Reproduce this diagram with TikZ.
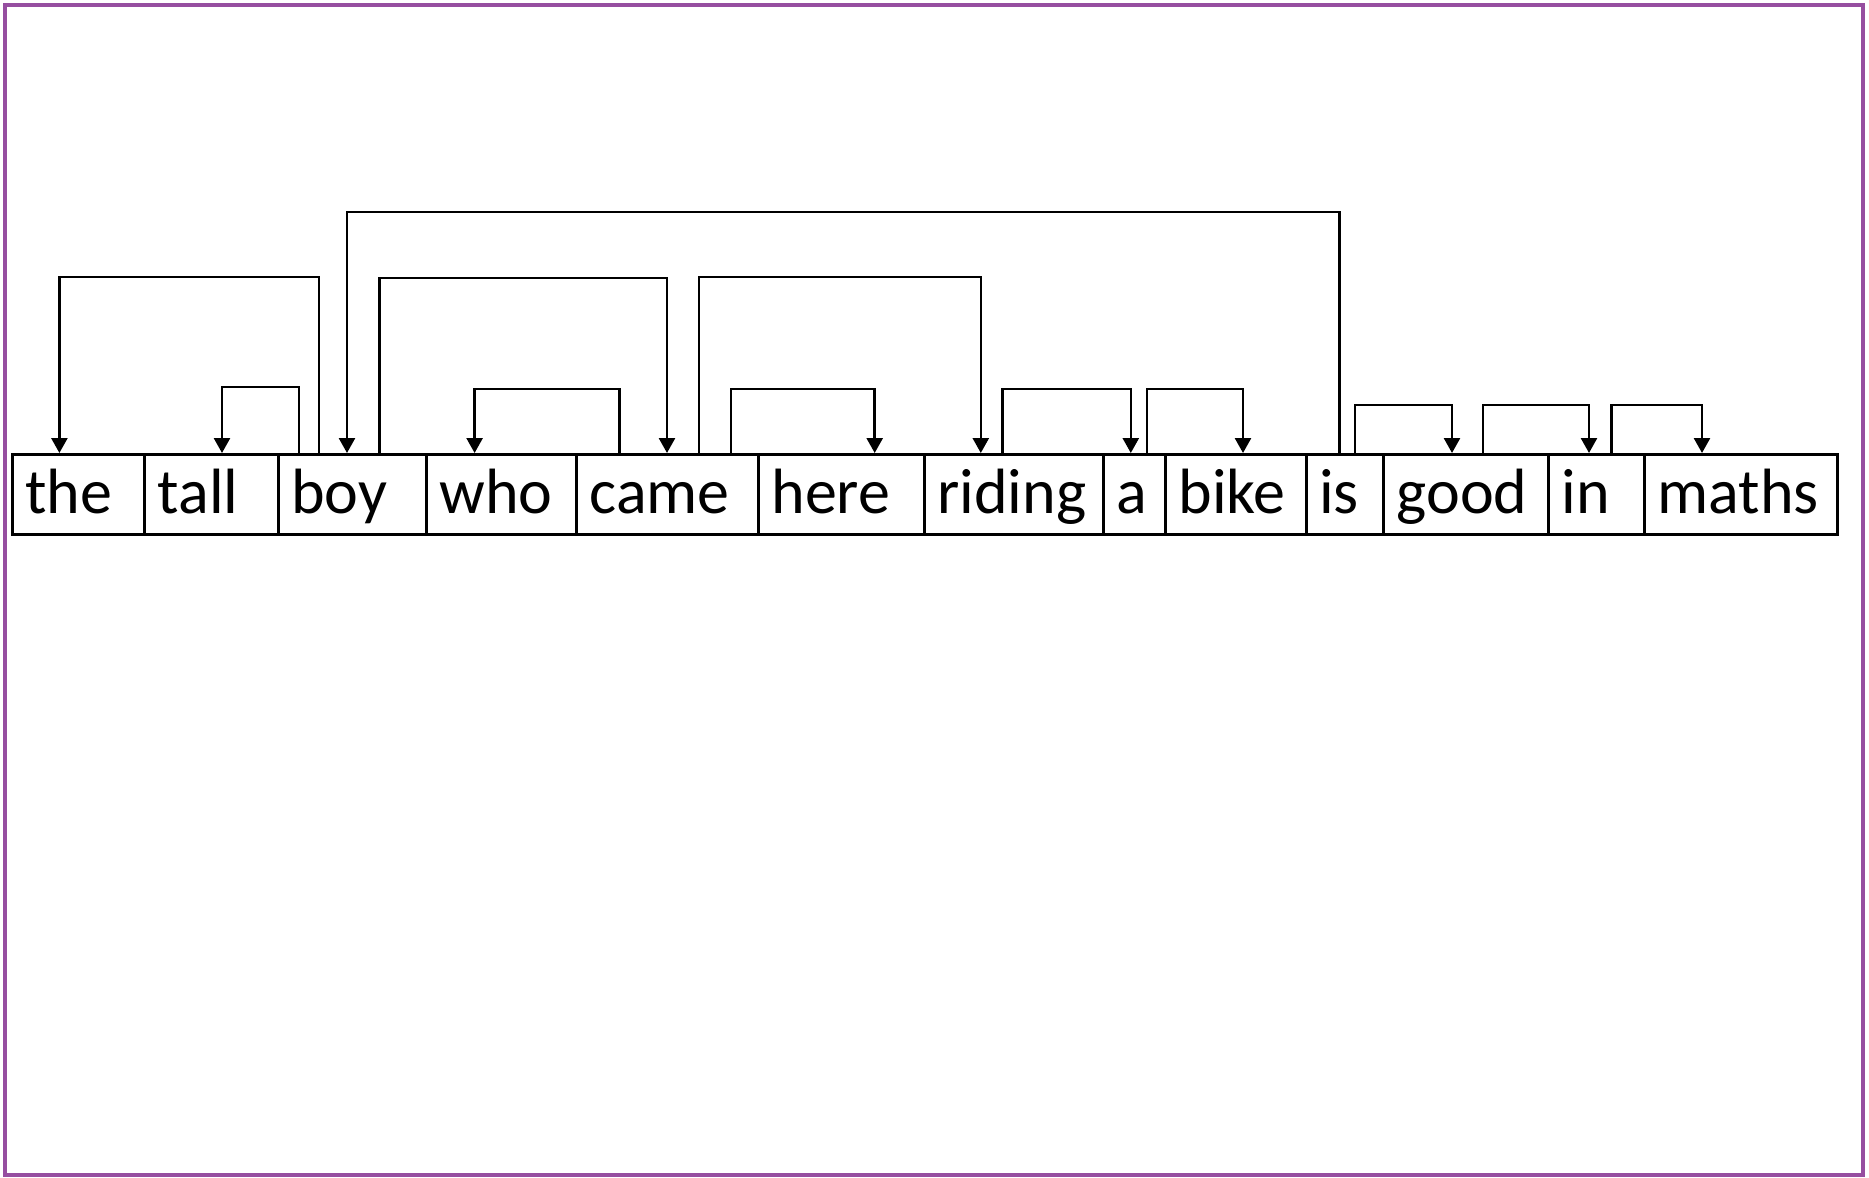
\documentclass[tikz,border=0pt]{standalone}
\usepackage{fontspec}
\setmainfont{Carlito}
\usetikzlibrary{arrows.meta}
\definecolor{framecol}{RGB}{150,78,160}
\begin{document}
\begin{tikzpicture}[x=1pt,y=-1pt,
  wbox/.style={draw, line width=3pt, inner xsep=13pt, inner ysep=0pt,
    text height=59pt, text depth=21pt, align=left, anchor=north west,
    font=\fontsize{64}{72}\selectfont},
  dep/.style={draw, line width=2.6pt, -{Triangle[length=15pt,width=16pt]}},
]
\useasboundingbox (0,0) rectangle (1869,1178);
\draw[framecol, line width=3.5pt] (5,5) rectangle (1863,1175);
% word boxes
\node[wbox, text width=106.6pt] (the)    at (10.7,453)   {the};
\node[wbox, text width=107.5pt] (tall)   at (143.3,453)  {tall};
\node[wbox, text width=122.2pt] (boy)    at (276.8,453)  {boy};
\node[wbox, text width=124pt]   (who)    at (425,453)    {who};
\node[wbox, text width=156pt]   (came)   at (575,453)    {came};
\node[wbox, text width=139.8pt] (here)   at (757,453)    {here};
\node[wbox, text width=153pt]   (riding) at (922.8,453)  {riding};
\node[wbox, text width=36.2pt]  (a)      at (1101.8,453) {a};
\node[wbox, text width=114.5pt] (bike)   at (1164,453)   {bike};
\node[wbox, text width=51.5pt]  (is)     at (1304.5,453) {is};
\node[wbox, text width=139pt]   (good)   at (1382,453)   {good};
\node[wbox, text width=70pt]    (in)     at (1547,453)   {in};
\node[wbox, text width=166.5pt] (maths)  at (1643,453)   {maths};
% dependency arcs
\draw[dep] ([xshift=42.2pt]boy.north west) -- ++(0,-176) -| ([xshift=48.7pt]the.north west);
\draw[dep] ([xshift=22.2pt]boy.north west) -- ++(0,-66) -| ([xshift=78.7pt]tall.north west);
\draw[dep] ([xshift=35pt]is.north west) -- ++(0,-241) -| ([xshift=70.2pt]boy.north west);
\draw[dep] ([xshift=102.7pt]boy.north west) -- ++(0,-175) -| ([xshift=92pt]came.north west);
\draw[dep] ([xshift=44.6pt]came.north west) -- ++(0,-64) -| ([xshift=49.6pt]who.north west);
\draw[dep] ([xshift=124pt]came.north west) -- ++(0,-176) -| ([xshift=58pt]riding.north west);
\draw[dep] ([xshift=156pt]came.north west) -- ++(0,-64) -| ([xshift=117.7pt]here.north west);
\draw[dep] ([xshift=79.9pt]riding.north west) -- ++(0,-64) -| ([xshift=29pt]a.north west);
\draw[dep] ([xshift=45.2pt]a.north west) -- ++(0,-64) -| ([xshift=79pt]bike.north west);
\draw[dep] ([xshift=50.5pt]is.north west) -- ++(0,-48) -| ([xshift=70pt]good.north west);
\draw[dep] ([xshift=101pt]good.north west) -- ++(0,-48) -| ([xshift=42pt]in.north west);
\draw[dep] ([xshift=64.6pt]in.north west) -- ++(0,-48) -| ([xshift=59pt]maths.north west);
\end{tikzpicture}
\end{document}
